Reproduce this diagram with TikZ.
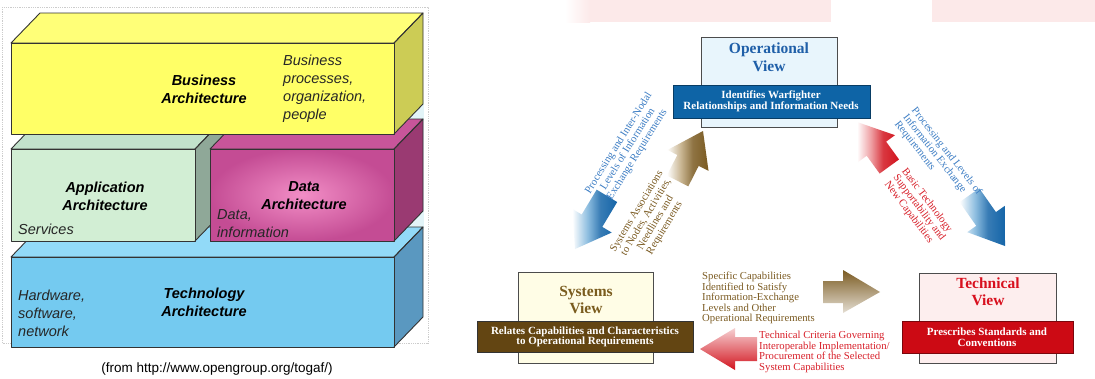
\documentclass[tikz,border=0pt]{standalone}
\usepackage{fontspec}
\setmainfont{Liberation Serif}
\newfontfamily\arialf{Liberation Sans}
\usetikzlibrary{calc}
\definecolor{bizfront}{HTML}{FFFF66}
\definecolor{biztop}{HTML}{FFFF78}
\definecolor{bizright}{HTML}{CCCC55}
\definecolor{appfront}{HTML}{D2EED4}
\definecolor{apptop}{HTML}{C2E2CC}
\definecolor{appright}{HTML}{8FA898}
\definecolor{dataout}{HTML}{C44C94}
\definecolor{datain}{HTML}{F28EC6}
\definecolor{datatop}{HTML}{C8559A}
\definecolor{dataright}{HTML}{9A3A72}
\definecolor{techfront}{HTML}{74CAF0}
\definecolor{techtop}{HTML}{92DAF8}
\definecolor{techright}{HTML}{5A98C0}
\definecolor{gapbg}{HTML}{E2F4F8}
\definecolor{opblue}{HTML}{1F5FA8}
\definecolor{opband}{HTML}{0E64A6}
\definecolor{opfill}{HTML}{E8F5FC}
\definecolor{sysbrown}{HTML}{7A5C1E}
\definecolor{sysband}{HTML}{634512}
\definecolor{sysfill}{HTML}{FFFDE6}
\definecolor{techred}{HTML}{D8101E}
\definecolor{techband}{HTML}{CC0A14}
\definecolor{techfill}{HTML}{FDEEEE}
\definecolor{txtblue}{HTML}{3C7DC4}
\definecolor{txtbrown}{HTML}{7B5B22}
\definecolor{txtred}{HTML}{D8202A}
\definecolor{arrblue}{HTML}{1565A8}
\definecolor{arrblueL}{HTML}{8EBEE0}
\definecolor{arrbrown}{HTML}{7B5B22}
\definecolor{arrbrownL}{HTML}{C8B490}
\definecolor{arrred}{HTML}{D2141E}
\definecolor{arrredL}{HTML}{EE9CA0}
\definecolor{pinkbg}{HTML}{FCE9E9}
\pgfdeclarehorizontalshading{fadeblue}{100bp}{color(0bp)=(white); color(25bp)=(white); color(42bp)=(arrblueL); color(56bp)=(arrblue!85); color(75bp)=(arrblue); color(100bp)=(arrblue)}
\pgfdeclarehorizontalshading{fadebrown}{100bp}{color(0bp)=(white); color(25bp)=(white); color(42bp)=(arrbrownL); color(56bp)=(arrbrown!85); color(75bp)=(arrbrown); color(100bp)=(arrbrown)}
\pgfdeclarehorizontalshading{fadered}{100bp}{color(0bp)=(white); color(25bp)=(white); color(42bp)=(arrredL); color(56bp)=(arrred!85); color(75bp)=(arrred); color(100bp)=(arrred)}
\tikzset{
  edge/.style={draw=black!80, line width=0.9pt, line join=round},
  boldlbl/.style={font=\arialf\bfseries\itshape\fontsize{14.5}{18}\selectfont, align=center, inner sep=0pt},
  itlbl/.style={font=\arialf\itshape\fontsize{14.5}{18}\selectfont, align=left, inner sep=0pt, text=black!85},
  viewbox/.style={draw=black!70, line width=1pt},
  viewtitle/.style={font=\bfseries\fontsize{15.5}{17.5}\selectfont, align=center, inner sep=0pt},
  bandtext/.style={font=\bfseries\fontsize{11}{10.5}\selectfont, align=center, text=white, inner sep=0pt},
  smalltxt/.style={font=\fontsize{10.7}{10.4}\selectfont, inner sep=0pt},
  rottxt/.style={font=\fontsize{10.7}{10.8}\selectfont, inner sep=0pt},
}
\newcommand{\fatarrow}[5]{%
  \begin{scope}[shift={(#1,#2)},rotate=#3]
    \shade[shading=#5] (0,0) -- (-33,-23) -- (-33,-12) -- (-#4,-12) -- (-#4,12) -- (-33,12) -- (-33,23) -- cycle;
  \end{scope}}
\begin{document}
\begin{tikzpicture}[x=1pt,y=-1pt]
\useasboundingbox (0,0) rectangle (1095,378);
\fill[white] (0,0) rectangle (1095,378);
% ---------- left panel ----------
\draw[gray!40, densely dotted, line width=0.8pt] (2,7) rectangle (428,343);
\fill[gapbg] (396,100) rectangle (424,230);
% technology
\fill[techtop] (11,257) -- (40,227) -- (423,227) -- (394,257) -- cycle;
\fill[techright] (394,257) -- (423,227) -- (423,317) -- (394,347) -- cycle;
\fill[techfront] (11,257) rectangle (394,347);
\draw[edge] (11,257) -- (40,227) -- (423,227) -- (394,257) -- cycle;
\draw[edge] (394,257) -- (423,227) -- (423,317) -- (394,347);
\draw[edge] (11,257) rectangle (394,347);
% application
\fill[apptop] (11,149) -- (40,119) -- (224,119) -- (195,149) -- cycle;
\fill[appright] (195,149) -- (224,119) -- (224,211) -- (195,241) -- cycle;
\fill[appfront] (11,149) rectangle (195,241);
\draw[edge] (11,149) -- (40,119) -- (224,119) -- (195,149) -- cycle;
\draw[edge] (195,149) -- (224,119) -- (224,211) -- (195,241);
\draw[edge] (11,149) rectangle (195,241);
% data
\fill[datatop] (210,149) -- (239,119) -- (423,119) -- (394,149) -- cycle;
\fill[dataright] (394,149) -- (423,119) -- (423,211) -- (394,241) -- cycle;
\shade[inner color=datain, outer color=dataout] (210,149) rectangle (394,241);
\draw[edge] (210,149) -- (239,119) -- (423,119) -- (394,149) -- cycle;
\draw[edge] (394,149) -- (423,119) -- (423,211) -- (394,241);
\draw[edge] (210,149) rectangle (394,241);
% business
\fill[biztop] (11,43) -- (40,13) -- (423,13) -- (394,43) -- cycle;
\fill[bizright] (394,43) -- (423,13) -- (423,104) -- (394,134) -- cycle;
\fill[bizfront] (11,43) rectangle (394,134);
\draw[edge] (11,43) -- (40,13) -- (423,13) -- (394,43) -- cycle;
\draw[edge] (394,43) -- (423,13) -- (423,104) -- (394,134);
\draw[edge] (11,43) rectangle (394,134);
% labels
\node[boldlbl] (bizl) at (204,89) {Business\\Architecture};
\node[itlbl, anchor=west] (bizd) at (283,89) {Business\\processes,\\organization,\\people};
\node[boldlbl] (appl) at (105,196) {Application\\Architecture};
\node[itlbl, anchor=base west] (appd) at (18,234) {Services};
\node[boldlbl] (datl) at (304,196) {Data\\Architecture};
\node[itlbl, anchor=west] (datd) at (217,224) {Data,\\information};
\node[boldlbl] (tecl) at (204,302) {Technology\\Architecture};
\node[itlbl, anchor=west] (tecd) at (18,313) {Hardware,\\software,\\network};
\node[font=\arialf\fontsize{13.5}{15}\selectfont, inner sep=0pt] (src) at (217,369) {(from http://www.opengroup.org/togaf/)};
% ---------- right panel ----------
\fill[pinkbg] (590,0) rectangle (831,22);
\shade[left color=white, right color=pinkbg] (565,0) rectangle (590,22);
\fill[pinkbg] (932,0) rectangle (1095,22);
% arrows
\fatarrow{575}{249}{239}{62}{fadeblue}
\fatarrow{703}{131}{63}{56}{fadebrown}
\fatarrow{857}{122}{126}{55}{fadered}
\fatarrow{1005}{246}{-55}{62}{fadeblue}
\shade[top color=arrbrown, bottom color=arrbrown!20] (880,292) -- (843,270) -- (843,281) -- (823,281) -- (823,303) -- (843,303) -- (843,313) -- cycle;
\shade[top color=arrred!20, bottom color=arrred] (700,349) -- (735,328) -- (735,337) -- (757,337) -- (757,361) -- (735,361) -- (735,370) -- cycle;
% view boxes
\filldraw[viewbox, fill=opfill] (701,37) rectangle (837,127);
\node[viewtitle, text=opblue] (opt) at (769,57) {Operational\\View};
\filldraw[draw=opband!60!black, fill=opband, line width=0.8pt] (673,85) rectangle (870,118);
\node[bandtext] (opb) at (771,101.5) {Identifies Warfighter\\Relationships and Information Needs};
\filldraw[viewbox, fill=sysfill] (518,272) rectangle (653,363);
\node[viewtitle, text=sysbrown] (syt) at (586,300) {Systems\\View};
\filldraw[draw=black!80, fill=sysband, line width=0.8pt] (477,321) rectangle (693,352);
\node[bandtext] (syb) at (585,337) {Relates Capabilities and Characteristics\\to Operational Requirements};
\filldraw[viewbox, fill=techfill] (919,273) rectangle (1056,363);
\node[viewtitle, text=techred] (tet) at (988,291.5) {Technical\\View};
\filldraw[draw=techband!60!black, fill=techband, line width=0.8pt] (902,321) rectangle (1073,353);
\node[bandtext] (teb) at (987,337) {Prescribes Standards and\\Conventions};
% arrow labels
\node[rottxt, text=txtblue, align=center, rotate=58] (t1) at (628,149) {Processing and Inter-Nodal\\Levels of Information\\Exchange Requirements};
\node[rottxt, text=txtbrown, align=center, rotate=59] (t2) at (651,220) {Systems Associations\\to Nodes, Activities,\\Needlines and\\Requirements};
\node[rottxt, text=txtred, align=left, rotate=-53] (t3) at (919,208) {Basic Technology\\Supportability and\\New Capabilities};
\node[rottxt, text=txtblue, align=left, rotate=-52] (t4) at (938,158) {Processing and Levels of\\Information Exchange\\Requirements};
\node[smalltxt, text=txtbrown, align=left, anchor=west] (t5) at (702,298) {Specific Capabilities\\Identified to Satisfy\\Information-Exchange\\Levels and Other\\Operational Requirements};
\node[smalltxt, text=txtred, align=left, anchor=west] (t6) at (759,352) {Technical Criteria Governing\\Interoperable Implementation/\\Procurement of the Selected\\System Capabilities};
\end{tikzpicture}
\end{document}
